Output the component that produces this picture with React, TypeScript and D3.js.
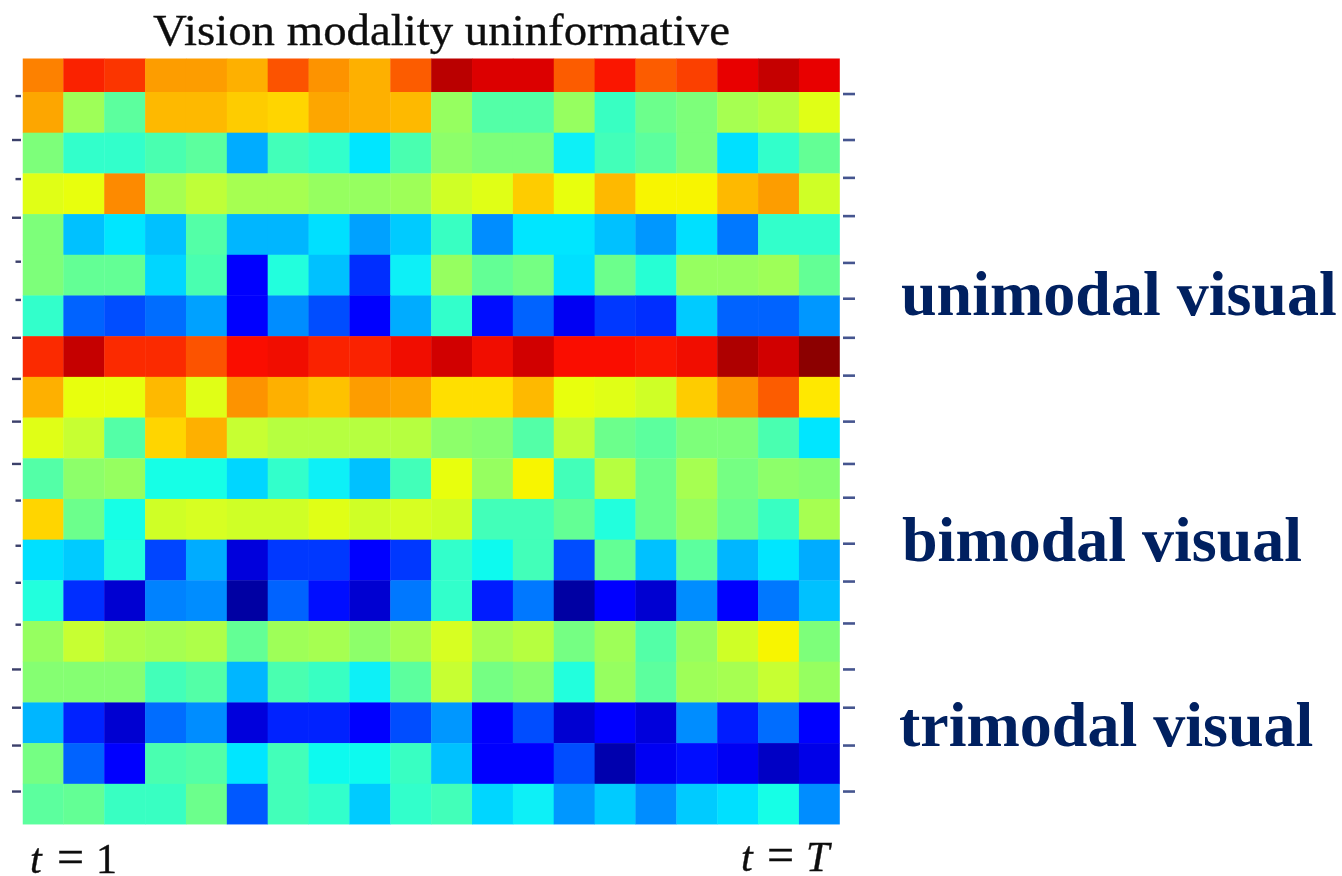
import React from "react";
import * as d3 from "d3";

const title = "Vision modality uninformative";
const sideLabels = ["unimodal visual", "bimodal visual", "trimodal visual"];
const jetStops = [0, 0.11, 0.125, 0.34, 0.35, 0.375, 0.5, 0.64, 0.65, 0.66, 0.89, 0.91, 1];
const jetColors = ["#000080", "#0000ff", "#0000ff", "#00e0ff", "#00e6ff", "#13ffeb", "#7dff7a", "#f0ff07", "#f8f500", "#ffe800", "#fa1000", "#e80000", "#800000"];

const row01 = [.77, .87, .85, .74, .74, .72, .82, .75, .72, .81, .95, .92, .92, .81, .88, .81, .84, .91, .94, .91];
const row02 = [.73, .54, .46, .71, .71, .69, .68, .73, .72, .71, .53, .45, .45, .53, .42, .48, .5, .55, .57, .62];
const row03 = [.5, .41, .41, .44, .46, .29, .43, .41, .35, .44, .52, .5, .5, .36, .43, .46, .5, .34, .41, .47];
const row04 = [.62, .63, .76, .55, .58, .55, .55, .53, .53, .54, .6, .62, .69, .63, .71, .65, .65, .71, .74, .6];
const row05 = [.5, .31, .35, .31, .45, .3, .3, .34, .28, .32, .42, .26, .35, .35, .31, .27, .34, .24, .41, .41];
const row06 = [.5, .47, .47, .33, .44, .13, .39, .31, .17, .36, .53, .47, .49, .34, .48, .4, .53, .53, .54, .47];
const row07 = [.41, .22, .2, .23, .28, .12, .26, .2, .12, .29, .41, .14, .22, .1, .18, .17, .32, .22, .22, .27];
const row08 = [.86, .94, .86, .86, .82, .89, .9, .87, .87, .9, .93, .9, .93, .89, .89, .88, .9, .96, .93, .99];
const row09 = [.72, .63, .63, .71, .62, .75, .72, .7, .74, .73, .67, .67, .71, .63, .62, .6, .69, .75, .81, .66];
const row10 = [.62, .59, .45, .68, .72, .59, .57, .57, .57, .57, .52, .51, .45, .58, .48, .46, .5, .5, .44, .35];
const row11 = [.45, .52, .53, .38, .38, .33, .41, .36, .31, .43, .63, .53, .65, .43, .57, .48, .55, .49, .52, .51];
const row12 = [.68, .48, .38, .6, .61, .6, .6, .62, .6, .61, .6, .43, .43, .47, .39, .48, .53, .48, .42, .55];
const row13 = [.34, .32, .39, .19, .29, .08, .18, .18, .12, .18, .41, .37, .43, .2, .47, .31, .46, .3, .35, .29];
const row14 = [.39, .17, .07, .25, .26, .03, .22, .14, .07, .24, .41, .15, .24, .03, .13, .07, .26, .12, .24, .31];
const row15 = [.53, .59, .56, .55, .56, .47, .54, .55, .52, .55, .61, .55, .57, .49, .54, .45, .53, .6, .65, .5];
const row16 = [.51, .51, .51, .43, .45, .3, .44, .42, .36, .46, .59, .49, .51, .39, .53, .46, .54, .55, .59, .53];
const row17 = [.3, .16, .07, .23, .26, .08, .16, .16, .11, .2, .27, .11, .2, .07, .13, .08, .26, .15, .23, .13];
const row18 = [.49, .22, .12, .44, .45, .35, .43, .37, .37, .42, .31, .11, .11, .2, .04, .1, .14, .1, .06, .09];
const row19 = [.46, .47, .42, .42, .48, .21, .43, .41, .32, .41, .43, .33, .36, .27, .32, .26, .32, .34, .38, .26];
const rows = [row01, row02, row03, row04, row05, row06, row07, row08, row09, row10, row11, row12, row13, row14, row15, row16, row17, row18, row19];

// tick locations in row units
const leftTicks = [1.10, 2.18, 3.14, 4.09, 5.17, 6.11, 7.04, 8.05, 9.10, 10.14, 11.04, 12.15, 13.06, 14.09, 15.19, 16.13, 17.06, 18.19];
const leftTickWide = [0, 1, 0, 1, 0, 0, 1, 1, 1, 1, 0, 0, 0, 0, 1, 1, 1, 1];
const rightTicks = [1.05, 2.18, 3.11, 4.05, 5.2, 6.08, 7.04, 7.97, 9.10, 10.14, 10.97, 12.10, 13.03, 14.06, 15.19, 16.13, 17.06, 18.19];

const W = 1342;
const H = 876;
const left = 22.5;
const right = 839.8;
const plotTop = 58.5;
const plotBottom = 824.5;

export default function App() {
  const x = d3.scaleBand<number>().domain(d3.range(20)).range([left, right]);
  const rowH = (plotBottom - 92) / 18;
  const y = d3.scaleLinear().domain([1, 19]).range([92, plotBottom]);
  const color = d3.scaleLinear<string>().domain(jetStops).range(jetColors).interpolate(d3.interpolateRgb);
  const serif = "'Liberation Serif', serif";
  const labelPos = [
    { x: 901, y: 315 },
    { x: 902, y: 561 },
    { x: 899, y: 746 },
  ];
  return (
    <svg width={W} height={H} style={{ position: "absolute", left: 0, top: 0, background: "#fff" }}>
      <defs>
        <clipPath id="plot">
          <rect x={left} y={plotTop} width={right - left} height={plotBottom - plotTop} />
        </clipPath>
        <filter id="soft" x="-2%" y="-2%" width="104%" height="104%">
          <feGaussianBlur stdDeviation="0.5" />
        </filter>
        <filter id="softText" x="-2%" y="-20%" width="104%" height="140%">
          <feGaussianBlur stdDeviation="0.5" />
        </filter>
      </defs>
      <g filter="url(#soft)">
        <g clipPath="url(#plot)">
          {rows.map((row, r) =>
            row.map((v, c) => (
              <rect
                key={`${r}-${c}`}
                x={x(c)}
                y={y(r)}
                width={x.bandwidth() + 0.4}
                height={rowH + 0.4}
                fill={color(v)}
              />
            ))
          )}
        </g>
      </g>
      <g filter="url(#softText)">
        {leftTicks.map((t, i) => (
          <line key={i} x1={leftTickWide[i] ? 12 : 15.5} x2={21} y1={y(t)} y2={y(t)} stroke="#3b3f6b" strokeWidth={2.4} />
        ))}
        {rightTicks.map((t, i) => (
          <line key={i} x1={843} x2={855} y1={y(t)} y2={y(t)} stroke="#45558f" strokeWidth={2.6} />
        ))}
        <text x={153} y={45} fontFamily={serif} fontSize={44} textLength={577} lengthAdjust="spacingAndGlyphs" fill="#111" stroke="#111" strokeWidth={0.35}>
          {title}
        </text>
        <text y={873} fontFamily={serif} fontSize={42} fill="#111" stroke="#111" strokeWidth={0.4}>
          <tspan x={30} fontStyle="italic">t</tspan>
          <tspan x={57} fontSize={48}>=</tspan>
          <tspan x={96}>1</tspan>
        </text>
        <text y={871} fontFamily={serif} fontSize={42} fill="#111" stroke="#111" strokeWidth={0.4}>
          <tspan x={741} fontStyle="italic">t</tspan>
          <tspan x={767} fontSize={48}>=</tspan>
          <tspan x={806} fontStyle="italic">T</tspan>
        </text>
      </g>
      {sideLabels.map((s, i) => (
        <text key={s} x={labelPos[i].x} y={labelPos[i].y} fontFamily={serif} fontWeight="bold" fontSize={64} fill="#002060">
          {s}
        </text>
      ))}
    </svg>
  );
}
